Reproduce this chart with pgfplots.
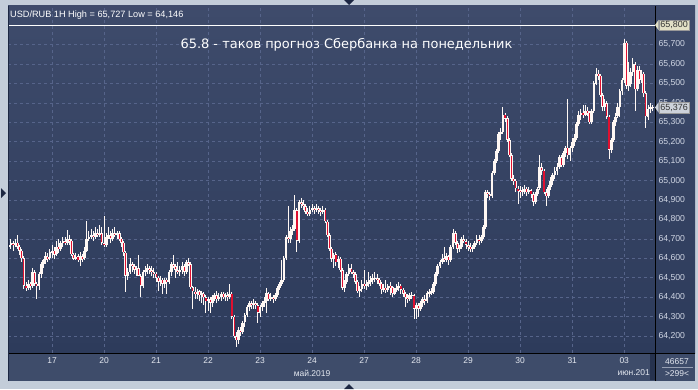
\documentclass[border=0pt]{standalone}
\usepackage{fontspec}
\setmainfont{Liberation Sans}
\newfontfamily\titlefont{DejaVu Sans}
\usepackage{pgfplots}
\usepackage{pgfplotstable}
\pgfplotsset{compat=1.18}
\definecolor{outer}{HTML}{C3CDD9}
\definecolor{bgtop}{HTML}{3E4B6B}
\definecolor{bgbot}{HTML}{2D3B5B}
\definecolor{xband}{HTML}{3E4C6A}
\definecolor{gridc}{HTML}{56648A}
\definecolor{candred}{HTML}{E01030}
\definecolor{wick}{HTML}{FFF8F4}
\definecolor{ylab}{HTML}{D0D6E4}
\definecolor{xlab}{HTML}{E4E8F0}
\definecolor{tagA}{HTML}{E2E0C6}
\definecolor{tagB}{HTML}{CDD2DA}
\definecolor{tri}{HTML}{1C2742}
\pgfplotstableread{
i o h l c
0 64.66 64.69 64.64 64.67
1 64.67 64.70 64.65 64.68
2 64.68 64.69 64.64 64.67
3 64.67 64.70 64.66 64.68
4 64.68 64.72 64.65 64.66
5 64.66 64.67 64.62 64.64
6 64.64 64.65 64.58 64.60
7 64.60 64.61 64.44 64.46
8 64.46 64.48 64.43 64.45
9 64.45 64.49 64.44 64.47
10 64.47 64.48 64.44 64.46
11 64.46 64.55 64.45 64.53
12 64.53 64.54 64.46 64.47
13 64.47 64.48 64.39 64.46
14 64.46 64.53 64.44 64.52
15 64.52 64.58 64.50 64.57
16 64.57 64.60 64.55 64.59
17 64.59 64.63 64.57 64.61
18 64.61 64.63 64.58 64.60
19 64.60 64.65 64.59 64.63
20 64.63 64.67 64.60 64.64
21 64.64 64.66 64.60 64.62
22 64.62 64.69 64.61 64.66
23 64.66 64.70 64.63 64.65
24 64.65 64.69 64.64 64.68
25 64.68 64.71 64.66 64.69
26 64.69 64.71 64.67 64.68
27 64.68 64.745 64.67 64.70
28 64.70 64.72 64.67 64.69
29 64.69 64.70 64.61 64.62
30 64.62 64.63 64.59 64.60
31 64.60 64.63 64.59 64.61
32 64.61 64.62 64.58 64.59
33 64.59 64.63 64.56 64.61
34 64.61 64.62 64.58 64.60
35 64.60 64.66 64.59 64.64
36 64.64 64.79 64.63 64.70
37 64.70 64.74 64.69 64.71
38 64.71 64.75 64.70 64.72
39 64.72 64.74 64.69 64.71
40 64.71 64.76 64.70 64.73
41 64.73 64.75 64.71 64.72
42 64.72 64.77 64.71 64.73
43 64.73 64.76 64.67 64.68
44 64.68 64.82 64.66 64.67
45 64.67 64.73 64.66 64.71
46 64.71 64.76 64.70 64.72
47 64.72 64.74 64.68 64.70
48 64.70 64.75 64.69 64.73
49 64.73 64.76 64.71 64.72
50 64.72 64.74 64.70 64.73
51 64.73 64.74 64.69 64.70
52 64.70 64.71 64.66 64.68
53 64.68 64.69 64.61 64.63
54 64.63 64.64 64.43 64.51
55 64.51 64.55 64.49 64.53
56 64.53 64.60 64.52 64.57
57 64.57 64.58 64.53 64.56
58 64.56 64.57 64.52 64.54
59 64.54 64.56 64.51 64.55
60 64.55 64.62 64.52 64.51
61 64.51 64.52 64.40 64.46
62 64.46 64.54 64.45 64.53
63 64.53 64.56 64.51 64.54
64 64.54 64.57 64.52 64.55
65 64.55 64.56 64.52 64.54
66 64.54 64.56 64.51 64.53
67 64.53 64.55 64.50 64.52
68 64.52 64.53 64.48 64.50
69 64.50 64.51 64.43 64.48
70 64.48 64.51 64.46 64.49
71 64.49 64.50 64.42 64.47
72 64.47 64.50 64.45 64.49
73 64.49 64.50 64.42 64.48
74 64.48 64.54 64.47 64.53
75 64.53 64.58 64.51 64.57
76 64.57 64.62 64.55 64.56
77 64.56 64.57 64.50 64.54
78 64.54 64.58 64.52 64.53
79 64.53 64.56 64.51 64.54
80 64.54 64.58 64.52 64.56
81 64.56 64.57 64.51 64.53
82 64.53 64.59 64.52 64.58
83 64.58 64.60 64.56 64.57
84 64.57 64.58 64.44 64.45
85 64.45 64.46 64.34 64.43
86 64.43 64.45 64.39 64.42
87 64.42 64.44 64.39 64.43
88 64.43 64.44 64.38 64.41
89 64.41 64.43 64.37 64.42
90 64.42 64.43 64.36 64.40
91 64.40 64.41 64.32 64.38
92 64.38 64.40 64.33 64.39
93 64.39 64.40 64.32 64.37
94 64.37 64.41 64.35 64.40
95 64.40 64.42 64.38 64.41
96 64.41 64.43 64.37 64.39
97 64.39 64.42 64.38 64.40
98 64.40 64.43 64.38 64.42
99 64.42 64.43 64.39 64.40
100 64.40 64.42 64.38 64.41
101 64.41 64.43 64.38 64.40
102 64.40 64.47 64.39 64.42
103 64.42 64.43 64.29 64.30
104 64.30 64.31 64.19 64.20
105 64.20 64.22 64.146 64.18
106 64.18 64.25 64.16 64.23
107 64.23 64.25 64.20 64.22
108 64.22 64.28 64.21 64.27
109 64.27 64.32 64.25 64.31
110 64.31 64.36 64.30 64.35
111 64.35 64.38 64.33 64.37
112 64.37 64.38 64.34 64.36
113 64.36 64.39 64.34 64.37
114 64.37 64.38 64.34 64.36
115 64.36 64.37 64.27 64.32
116 64.32 64.36 64.30 64.35
117 64.35 64.38 64.33 64.37
118 64.37 64.40 64.35 64.38
119 64.38 64.45 64.32 64.42
120 64.42 64.43 64.38 64.39
121 64.39 64.42 64.38 64.40
122 64.40 64.41 64.37 64.39
123 64.39 64.42 64.38 64.41
124 64.41 64.46 64.40 64.45
125 64.45 64.48 64.44 64.47
126 64.47 64.59 64.46 64.49
127 64.49 64.61 64.48 64.60
128 64.60 64.72 64.59 64.71
129 64.71 64.87 64.68 64.70
130 64.70 64.76 64.68 64.74
131 64.74 64.77 64.72 64.75
132 64.75 64.925 64.74 64.85
133 64.85 64.86 64.63 64.69
134 64.69 64.90 64.68 64.89
135 64.89 64.91 64.86 64.88
136 64.88 64.90 64.85 64.87
137 64.87 64.88 64.83 64.84
138 64.84 64.86 64.82 64.83
139 64.83 64.87 64.82 64.85
140 64.85 64.88 64.84 64.86
141 64.86 64.87 64.83 64.85
142 64.85 64.88 64.84 64.86
143 64.86 64.87 64.83 64.85
144 64.85 64.86 64.82 64.84
145 64.84 64.87 64.83 64.85
146 64.85 64.86 64.78 64.79
147 64.79 64.80 64.71 64.72
148 64.72 64.73 64.64 64.65
149 64.65 64.66 64.58 64.60
150 64.60 64.63 64.55 64.62
151 64.62 64.63 64.56 64.58
152 64.58 64.61 64.55 64.60
153 64.60 64.61 64.53 64.54
154 64.54 64.55 64.44 64.45
155 64.45 64.49 64.43 64.48
156 64.48 64.53 64.47 64.52
157 64.52 64.57 64.51 64.55
158 64.55 64.57 64.52 64.53
159 64.53 64.54 64.50 64.52
160 64.52 64.53 64.47 64.48
161 64.48 64.49 64.42 64.43
162 64.43 64.46 64.40 64.44
163 64.44 64.49 64.43 64.47
164 64.47 64.54 64.44 64.46
165 64.46 64.49 64.44 64.47
166 64.47 64.53 64.45 64.48
167 64.48 64.51 64.46 64.49
168 64.49 64.52 64.47 64.50
169 64.50 64.53 64.48 64.50
170 64.50 64.52 64.47 64.49
171 64.49 64.50 64.46 64.47
172 64.47 64.48 64.42 64.44
173 64.44 64.47 64.43 64.45
174 64.45 64.49 64.42 64.44
175 64.44 64.47 64.43 64.46
176 64.46 64.48 64.41 64.45
177 64.45 64.46 64.40 64.42
178 64.42 64.45 64.41 64.44
179 64.44 64.47 64.43 64.45
180 64.45 64.48 64.43 64.46
181 64.46 64.47 64.42 64.44
182 64.44 64.45 64.40 64.42
183 64.42 64.43 64.35 64.40
184 64.40 64.42 64.37 64.39
185 64.39 64.42 64.38 64.41
186 64.41 64.43 64.39 64.41
187 64.41 64.42 64.29 64.34
188 64.34 64.37 64.29 64.36
189 64.36 64.37 64.30 64.34
190 64.34 64.38 64.33 64.37
191 64.37 64.40 64.35 64.39
192 64.39 64.41 64.36 64.38
193 64.38 64.43 64.37 64.42
194 64.42 64.44 64.40 64.43
195 64.43 64.45 64.41 64.43
196 64.43 64.48 64.42 64.47
197 64.47 64.53 64.46 64.52
198 64.52 64.57 64.51 64.56
199 64.56 64.59 64.55 64.58
200 64.58 64.62 64.57 64.60
201 64.60 64.66 64.58 64.59
202 64.59 64.63 64.58 64.61
203 64.61 64.62 64.565 64.59
204 64.59 64.67 64.58 64.66
205 64.66 64.75 64.65 64.73
206 64.73 64.74 64.67 64.68
207 64.68 64.69 64.63 64.65
208 64.65 64.67 64.63 64.66
209 64.66 64.71 64.65 64.70
210 64.70 64.72 64.68 64.69
211 64.69 64.70 64.65 64.67
212 64.67 64.69 64.64 64.66
213 64.66 64.68 64.63 64.65
214 64.65 64.67 64.63 64.66
215 64.66 64.69 64.65 64.68
216 64.68 64.72 64.67 64.70
217 64.70 64.72 64.67 64.69
218 64.69 64.72 64.68 64.71
219 64.71 64.77 64.70 64.76
220 64.76 64.95 64.75 64.94
221 64.94 64.95 64.91 64.93
222 64.93 64.94 64.90 64.92
223 64.92 65.05 64.91 65.04
224 65.04 65.11 65.03 65.10
225 65.10 65.16 65.09 65.15
226 65.15 65.25 65.14 65.24
227 65.24 65.27 65.21 65.25
228 65.25 65.38 65.24 65.34
229 65.34 65.35 65.30 65.32
230 65.32 65.33 65.20 65.21
231 65.21 65.22 65.12 65.13
232 65.13 65.14 65.00 65.01
233 65.01 65.03 64.98 65.00
234 65.00 65.01 64.94 64.96
235 64.96 64.97 64.88 64.95
236 64.95 64.97 64.91 64.94
237 64.94 64.97 64.92 64.95
238 64.95 64.98 64.93 64.96
239 64.96 64.97 64.92 64.94
240 64.94 64.97 64.93 64.95
241 64.95 64.96 64.91 64.93
242 64.93 64.94 64.87 64.89
243 64.89 64.94 64.88 64.93
244 64.93 64.97 64.92 64.96
245 64.96 65.13 64.95 65.07
246 65.07 65.09 65.03 65.05
247 65.05 65.06 64.93 64.94
248 64.94 64.96 64.87 64.92
249 64.92 64.98 64.91 64.97
250 64.97 65.02 64.95 65.00
251 65.00 65.04 64.98 65.03
252 65.03 65.07 65.01 65.05
253 65.05 65.09 65.03 65.07
254 65.07 65.13 65.06 65.12
255 65.12 65.13 65.07 65.08
256 65.08 65.15 65.07 65.14
257 65.14 65.18 65.12 65.17
258 65.17 65.42 65.11 65.13
259 65.13 65.18 65.10 65.17
260 65.17 65.22 65.15 65.20
261 65.20 65.24 65.18 65.22
262 65.22 65.30 65.21 65.29
263 65.29 65.36 65.28 65.34
264 65.34 65.37 65.31 65.35
265 65.35 65.39 65.32 65.34
266 65.34 65.39 65.33 65.36
267 65.36 65.38 65.33 65.35
268 65.35 65.36 65.29 65.30
269 65.30 65.37 65.29 65.36
270 65.36 65.51 65.35 65.50
271 65.50 65.58 65.49 65.55
272 65.55 65.57 65.52 65.54
273 65.54 65.55 65.43 65.44
274 65.44 65.45 65.36 65.38
275 65.38 65.42 65.36 65.40
276 65.40 65.41 65.32 65.33
277 65.33 65.34 65.11 65.16
278 65.16 65.22 65.14 65.21
279 65.21 65.31 65.20 65.30
280 65.30 65.35 65.28 65.33
281 65.33 65.40 65.32 65.38
282 65.38 65.47 65.33 65.46
283 65.46 65.53 65.44 65.52
284 65.52 65.727 65.50 65.71
285 65.71 65.72 65.47 65.49
286 65.49 65.61 65.46 65.50
287 65.50 65.58 65.48 65.56
288 65.56 65.63 65.54 65.60
289 65.60 65.61 65.36 65.47
290 65.47 65.59 65.46 65.57
291 65.57 65.59 65.50 65.52
292 65.52 65.57 65.50 65.55
293 65.55 65.56 65.43 65.45
294 65.45 65.46 65.27 65.33
295 65.33 65.39 65.31 65.37
296 65.37 65.40 65.35 65.38
297 65.38 65.39 65.36 65.376
}\candles
\begin{document}
\begin{tikzpicture}[x=1bp,y=1bp]
\fill[outer] (0,0) rectangle (698,389);
\shade[top color=bgtop, bottom color=bgbot] (8,36) rectangle (695,383);
\fill[xband] (8,8) rectangle (695,36);
\fill[tri!70!xband] (650,9) rectangle (654.5,35);
\begin{axis}[
  at={(8bp,36bp)}, anchor=south west,
  width=647bp, height=347bp, scale only axis,
  xmin=-0.32, xmax=298.2, ymin=64.113, ymax=65.898,
  axis line style={draw=none},
  major tick length=0pt,
  xtick={20,44,68,92,116,140,164,188,212,236,260,284},
  xticklabels={17,20,21,22,23,24,27,28,29,30,31,03},
  ytick={64.2,64.3,64.4,64.5,64.6,64.7,64.8,64.9,65.0,65.1,65.2,65.3,65.4,65.5,65.6,65.7},
  yticklabel pos=right,
  grid=major,
  major grid style={gridc, dash pattern=on 3bp off 3bp, line width=0.6bp},
  xticklabel style={font=\fontsize{8.5}{10}\selectfont, text=xlab, yshift=-1bp},
  yticklabel style={font=\fontsize{8.7}{10}\selectfont, text=ylab, xshift=0bp,
    /pgf/number format/.cd, fixed, fixed zerofill, precision=3, use comma, 1000 sep={}},
  /pgf/number format/assume math mode=true,
  every axis plot/.append style={mark=none},
]
\addplot[draw=white, line width=1bp, forget plot] coordinates {(-0.32,65.8) (298.2,65.8)};
\addplot[draw=none, forget plot, error bars/.cd, y dir=both, y explicit, error mark=none,
  error bar style={draw=wick, line width=1bp, solid}]
  table[x=i, y expr={(\thisrow{h}+\thisrow{l})/2}, y error expr={(\thisrow{h}-\thisrow{l})/2}] {\candles};
\addplot[draw=none, forget plot, error bars/.cd, y dir=both, y explicit, error mark=none,
  error bar style={draw=wick, line width=2.7bp, solid, line cap=butt}]
  table[x=i, y expr={(\thisrow{o}+\thisrow{c})/2}, y error expr={max(abs(\thisrow{o}-\thisrow{c})/2,0.002)}] {\candles};
\addplot[draw=none, forget plot, restrict expr to domain={\thisrow{o}-\thisrow{c}}{0.007:10},
  error bars/.cd, y dir=both, y explicit, error mark=none,
  error bar style={draw=candred, line width=1.15bp, solid, line cap=butt}]
  table[x=i, y expr={(\thisrow{o}+\thisrow{c})/2}, y error expr={(\thisrow{o}-\thisrow{c})/2-0.003}] {\candles};
\coordinate (tA) at (axis cs:298.2,65.8);
\coordinate (tB) at (axis cs:298.2,65.376);
\end{axis}
% frame lines
\draw[black, line width=1bp] (655.5,8) -- (655.5,383);
\draw[black, line width=1bp] (8,36) -- (695,36);
\draw[tri, line width=1bp] (8.5,8) -- (8.5,383);
% price tags
\node[fill=tagA, draw=black!40, text=black!80, inner xsep=1.6bp, inner ysep=1.6bp, anchor=west,
  font=\fontsize{9}{10}\selectfont] (nA) at ([xshift=3.5bp]tA) {65,800};
\fill[tagA] ([yshift=-0.4bp]nA.north west) -- ([xshift=-3.5bp]nA.west) -- ([yshift=0.4bp]nA.south west) -- cycle;
\node[fill=tagB, draw=black!40, text=black!80, inner xsep=1.6bp, inner ysep=1.6bp, anchor=west,
  font=\fontsize{9}{10}\selectfont] (nB) at ([xshift=3.5bp]tB) {65,376};
\fill[tagB] ([yshift=-0.4bp]nB.north west) -- ([xshift=-3.5bp]nB.west) -- ([yshift=0.4bp]nB.south west) -- cycle;
% texts
\node[anchor=west, text=white, font=\fontsize{9.2}{10}\selectfont, inner sep=0pt] at (10,374) {USD/RUB 1H High = 65,727 Low = 64,146};
\node[text=white, font=\titlefont\fontsize{13}{15}\selectfont, inner sep=0pt] at (346.5,344) {65.8 - таков прогноз Сбербанка на понедельник};
\node[text=xlab, font=\fontsize{8.5}{10}\selectfont, inner sep=0pt] at (312,16) {май.2019};
\node[text=xlab, font=\fontsize{8.5}{10}\selectfont, inner sep=0pt, anchor=east] at (650,16) {июн.201};
\node[text=xlab, font=\fontsize{8.5}{10}\selectfont, inner sep=0pt] at (677,27) {46657};
\draw[ylab!60!xband, line width=0.6bp] (662,21.5) -- (693,21.5);
\node[text=xlab, font=\fontsize{8.5}{10}\selectfont, inner sep=0pt] at (677,15) {>299<};
% decorative arrows
\fill[tri] (344,389) -- (354,389) -- (349,384) -- cycle;
\fill[tri] (344,0) -- (354,0) -- (349,5) -- cycle;
\fill[tri] (1,201) -- (1,191) -- (6,196) -- cycle;
\end{tikzpicture}
\end{document}
